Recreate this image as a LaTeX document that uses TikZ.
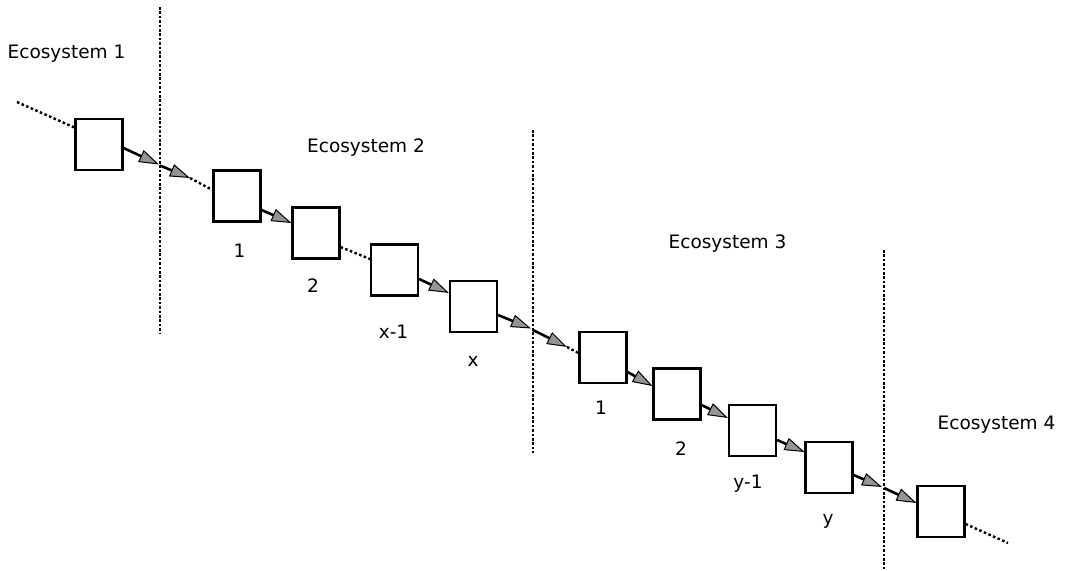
\documentclass[tikz,border=0pt]{standalone}
\usepackage{fontspec}
\setmainfont{DejaVu Sans}
\usetikzlibrary{arrows.meta,calc}
\begin{document}
\begin{tikzpicture}[x=1pt,y=-1pt,
  box/.style={draw=black,line width=2.1pt,fill=white,minimum width=47pt,minimum height=51pt,inner sep=0pt},
  lbl/.style={anchor=base,inner sep=0pt,font=\fontsize{18.5}{20}\selectfont},
  link/.style={line width=2.6pt,-{Triangle[length=20pt,width=13pt,fill=gray!80!black!70,line width=1pt]}},
  dotlink/.style={line width=2.4pt,dash pattern=on 2.6pt off 2.4pt},
  divider/.style={line width=2.4pt,dash pattern=on 2.6pt off 1.8pt}]
\useasboundingbox (0,0) rectangle (1065,570);
% dividers
\draw[divider] (160,7) -- (160,333);
\draw[divider] (533,130) -- (533,453);
\draw[divider] (884,250) -- (884,570);
% boxes
\node[box] (A) at (99,144.5) {};
\node[box] (B) at (237,196) {};
\node[box] (C) at (316,233) {};
\node[box] (D) at (394.5,270) {};
\node[box] (E) at (473.5,306.5) {};
\node[box] (F) at (603,357.5) {};
\node[box] (G) at (677,394) {};
\node[box] (H) at (752.5,430.5) {};
\node[box] (I) at (829,467.5) {};
\node[box] (J) at (941,511.5) {};
% crossing coordinates
\coordinate (s0) at (17,102);
\coordinate (p1) at (159,164.5);
\coordinate (q1) at (160,165.5);
\coordinate (r1) at (190,178);
\coordinate (p2) at (531,328.5);
\coordinate (q2) at (533,330);
\coordinate (r2) at (567,347);
\coordinate (p3) at (882,487);
\coordinate (q3) at (884,488);
\coordinate (e0) at (1008,543);
% connectors
\draw[dotlink] (s0) -- ($(A.west)+(0,-17)$);
\draw[link] ($(A.east)+(0,3.5)$) -- (p1);
\draw[link] (q1) -- (r1);
\draw[dotlink] (r1) -- ($(B.west)+(0,-6)$);
\draw[link] ($(B.east)+(0,14)$) -- ($(C.west)+(0,-10)$);
\draw[dotlink] ($(C.east)+(0,14)$) -- ($(D.west)+(0,-11)$);
\draw[link] ($(D.east)+(0,9)$) -- ($(E.west)+(0,-13.5)$);
\draw[link] ($(E.east)+(0,8.5)$) -- (p2);
\draw[link] (q2) -- (r2);
\draw[dotlink] (r2) -- ($(F.west)+(0,-4.5)$);
\draw[link] ($(F.east)+(0,14.5)$) -- ($(G.west)+(0,-8)$);
\draw[link] ($(G.east)+(0,11)$) -- ($(H.west)+(0,-12.5)$);
\draw[link] ($(H.east)+(0,9.5)$) -- ($(I.west)+(0,-15.5)$);
\draw[link] ($(I.east)+(0,7.5)$) -- (p3);
\draw[link] (q3) -- ($(J.west)+(0,-8.5)$);
\draw[dotlink] ($(J.east)+(0,12.5)$) -- (e0);
% labels
\node[lbl] (t1) at (66.5,58) {Ecosystem 1};
\node[lbl] (t2) at (366,152) {Ecosystem 2};
\node[lbl] (t3) at (727.5,248) {Ecosystem 3};
\node[lbl] (t4) at (996.5,429) {Ecosystem 4};
\node[lbl] (n1) at (239.5,257) {1};
\node[lbl] (n2) at (313,292) {2};
\node[lbl] (n3) at (393.5,338) {x-1};
\node[lbl] (n4) at (473,366) {x};
\node[lbl] (n5) at (601,414) {1};
\node[lbl] (n6) at (681,455) {2};
\node[lbl] (n7) at (748,488) {y-1};
\node[lbl] (n8) at (828,524) {y};
\end{tikzpicture}
\end{document}
